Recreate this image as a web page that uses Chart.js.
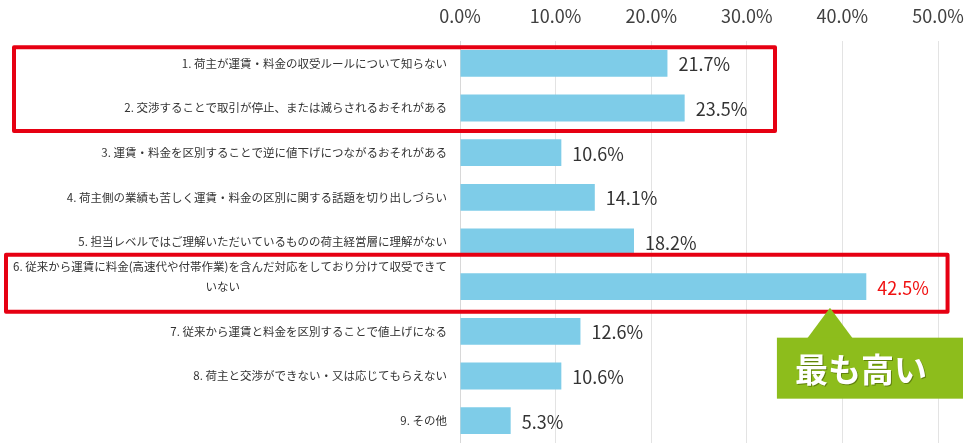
<!DOCTYPE html>
<html lang="ja">
<head>
<meta charset="utf-8">
<script src="https://cdn.jsdelivr.net/npm/chart.js@4"></script>
<style>
  html, body { margin: 0; padding: 0; background: #fff; }
  #wrap { width: 968px; height: 443px; position: relative; }
</style>
</head>
<body>
<div id="wrap"><canvas id="chartRazones"></canvas></div>
<script>
// Datos
const categorias = [
    '1. 荷主が運賃・料金の収受ルールについて知らない',
    '2. 交渉することで取引が停止、または減らされるおそれがある',
    '3. 運賃・料金を区別することで逆に値下げにつながるおそれがある',
    '4. 荷主側の業績も苦しく運賃・料金の区別に関する話題を切り出しづらい',
    '5. 担当レベルではご理解いただいているものの荷主経営層に理解がない',
    ['6. 従来から運賃に料金(高速代や付帯作業)を含んだ対応をしており分けて収受できて', 'いない'],
    '7. 従来から運賃と料金を区別することで値上げになる',
    '8. 荷主と交渉ができない・又は応じてもらえない',
    '9. その他'
];
const porcentajes = [21.7, 23.5, 10.6, 14.1, 18.2, 42.5, 12.6, 10.6, 5.3];
const ticksX = [0, 10, 20, 30, 40, 50];
const gruposMarcados = [[0, 1], [5]];
const textoDestacado = '最も高い';

const FUENTE = "'Noto Sans CJK JP', 'Noto Sans', sans-serif";
const idxMax = porcentajes.indexOf(Math.max(...porcentajes));

// la 2a línea del item 6 va centrada bajo la 1a, y una línea vacía para subir el bloque
const etiquetas = categorias.map(c => {
    if (!Array.isArray(c)) return c;
    return [c[0], c[1] + '　'.repeat(18), ''];
});

// --- PLUGINS ---

const pluginValores = {
    id: 'valores',
    afterDatasetsDraw(chart) {
        const ctx = chart.ctx;
        const meta = chart.getDatasetMeta(0);
        ctx.save();
        ctx.font = '18px ' + FUENTE;
        ctx.textAlign = 'left';
        ctx.textBaseline = 'middle';
        meta.data.forEach((bar, i) => {
            ctx.fillStyle = i === idxMax ? '#f01010' : '#333333';
            ctx.fillText(porcentajes[i].toFixed(1) + '%', bar.x + 11, bar.y + 1);
        });
        ctx.restore();
    }
};

const pluginMarcas = {
    id: 'marcas',
    afterDraw(chart) {
        const ctx = chart.ctx;
        const y = chart.scales.y;
        const x = chart.scales.x;

        ctx.save();
        ctx.strokeStyle = '#e60012';
        ctx.lineWidth = 4;
        ctx.lineJoin = 'round';

        // cuadro 1: items 1 y 2
        let g = gruposMarcados[0];
        let top = y.getPixelForValue(g[0]) - 16;
        let bot = y.getPixelForValue(g[g.length - 1]) + 23;
        ctx.strokeRect(14, top, x.getPixelForValue(32.95) - 14, bot - top);

        // cuadro 2: item 6
        g = gruposMarcados[1];
        top = y.getPixelForValue(g[0]) - 32;
        bot = y.getPixelForValue(g[0]) + 25;
        const der2 = x.getPixelForValue(51.0);
        ctx.strokeRect(6, top, der2 - 6, bot - top);

        // globo verde
        const punta = x.getPixelForValue(38.7);
        const gTop = bot + 26;
        const gIzq = x.getPixelForValue(33.15);
        const gDer = 963;
        const gAlto = 61;
        ctx.fillStyle = '#8dbd1c';
        ctx.beginPath();
        ctx.moveTo(punta, bot - 4);
        ctx.lineTo(punta + 23, gTop + 1);
        ctx.lineTo(punta - 23, gTop + 1);
        ctx.closePath();
        ctx.fill();
        ctx.fillRect(gIzq, gTop, gDer - gIzq, gAlto);

        ctx.font = 'bold 33px ' + FUENTE;
        ctx.textAlign = 'center';
        ctx.textBaseline = 'middle';
        ctx.fillStyle = 'rgba(60,80,0,0.55)';
        ctx.fillText(textoDestacado, (gIzq + gDer) / 2 - 8, gTop + gAlto / 2 + 2);
        ctx.fillStyle = '#ffffff';
        ctx.fillText(textoDestacado, (gIzq + gDer) / 2 - 9, gTop + gAlto / 2 + 1);
        ctx.restore();
    }
};

// --- GRÁFICO ---

const ctx = document.getElementById('chartRazones').getContext('2d');
const chartRazones = new Chart(ctx, {
    type: 'bar',
    data: {
        labels: etiquetas,
        datasets: [{
            data: porcentajes,
            backgroundColor: '#7ecce8',
            borderWidth: 0,
            categoryPercentage: 1,
            barPercentage: 0.6
        }]
    },
    options: {
        indexAxis: 'y',
        responsive: true,
        maintainAspectRatio: false,
        animation: false,
        layout: { padding: { left: 0, right: 30, top: 0, bottom: 0 } },
        plugins: {
            legend: { display: false },
            tooltip: { enabled: false }
        },
        scales: {
            x: {
                position: 'top',
                min: 0,
                max: 50,
                afterBuildTicks: (scale) => {
                    scale.ticks = ticksX.map(v => ({ value: v }));
                },
                afterFit: (scale) => {
                    scale.height = 41;
                    scale.paddingLeft = 0;
                    scale.paddingRight = 0;
                },
                grid: { color: '#e3e3e3', drawTicks: false },
                border: { display: false },
                ticks: {
                    padding: 14,
                    color: '#404040',
                    font: { family: FUENTE, size: 18 },
                    callback: (v) => Number(v).toFixed(1) + '%'
                }
            },
            y: {
                afterFit: (scale) => {
                    scale.width = 460;
                    // sin relleno extra arriba/abajo: las barras llegan al borde inferior
                    scale.paddingTop = 0;
                    scale.paddingBottom = 0;
                },
                grid: { display: false, drawTicks: false },
                border: { display: true, color: '#d8d8d8' },
                ticks: {
                    padding: 13,
                    color: '#333333',
                    font: { family: FUENTE, size: 11.5, lineHeight: 1.75 },
                    autoSkip: false
                }
            }
        }
    },
    plugins: [pluginValores, pluginMarcas]
});
</script>
</body>
</html>
